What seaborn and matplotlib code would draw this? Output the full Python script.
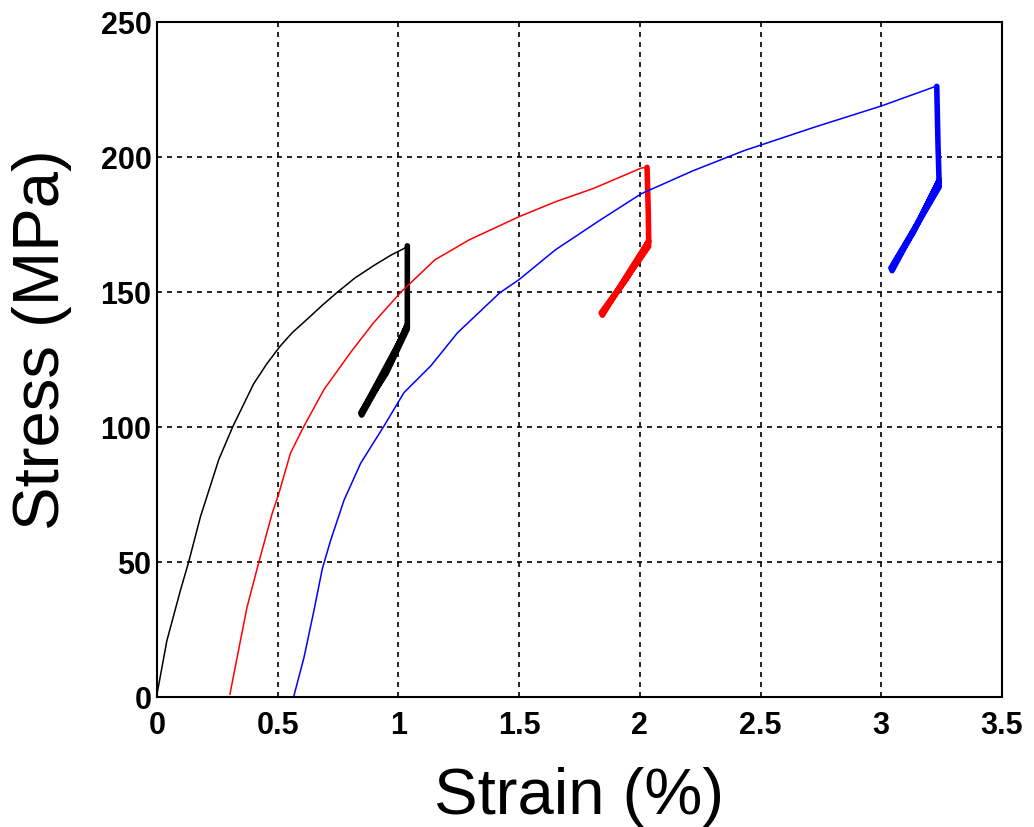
import numpy as np
import pandas as pd
import seaborn as sns
import matplotlib
matplotlib.use("Agg")
import matplotlib.pyplot as plt

# Monotonic loading curves (strain %, stress MPa)
black_strain = [0.0, 0.041, 0.097, 0.131, 0.18, 0.256, 0.315, 0.40, 0.455, 0.51, 0.56, 0.622, 0.685,
                0.747, 0.82, 0.90, 0.97, 1.023, 1.037]
black_stress = [1.0, 20.9, 39.5, 50.0, 66.8, 88.0, 100.4, 116.0, 123.5, 130.0, 135.0, 140.0, 145.2,
                150.0, 155.3, 160.0, 163.8, 166.2, 167.2]

red_strain = [0.302, 0.332, 0.373, 0.422, 0.477, 0.505, 0.553, 0.609, 0.692, 0.802, 0.899, 1.01, 1.151,
              1.293, 1.5, 1.65, 1.806, 2.006, 2.03]
red_stress = [1.0, 14.7, 33.3, 50.0, 68.0, 75.5, 90.4, 100.4, 114.0, 127.7, 138.9, 150.0, 162.0,
              169.4, 178.0, 183.5, 188.4, 196.0, 196.3]

blue_strain = [0.567, 0.609, 0.65, 0.685, 0.719, 0.775, 0.844, 0.94, 1.023, 1.134, 1.245, 1.42, 1.5,
               1.65, 1.835, 2.006, 2.22, 2.433, 2.718, 3.0, 3.217, 3.23]
blue_stress = [0.4, 14.7, 32.0, 47.6, 58.0, 73.0, 86.7, 100.4, 112.8, 122.7, 135.0, 149.8, 154.7,
               165.7, 176.7, 186.5, 195.0, 202.5, 211.0, 219.0, 226.0, 226.3]

# Relaxation drop + unload/reload cycles
black_cyc_strain = [1.037, 1.037, 1.037, 0.95, 0.844, 0.848, 0.96, 1.037, 0.95, 0.85, 1.037]
black_cyc_stress = [167.2, 150.0, 136.4, 120.0, 105.3, 104.5, 122.5, 138.0, 121.0, 106.0, 137.0]

red_cyc_strain = [2.03, 2.035, 2.037, 1.95, 1.84, 1.845, 1.955, 2.037, 1.945, 1.85, 2.037]
red_cyc_stress = [196.3, 180.0, 168.0, 156.0, 142.4, 141.5, 157.5, 169.0, 155.0, 143.0, 167.0]

blue_cyc_strain = [3.23, 3.235, 3.24, 3.14, 3.04, 3.045, 3.15, 3.24, 3.135, 3.05, 3.24]
blue_cyc_stress = [226.3, 205.0, 190.0, 174.0, 159.0, 158.0, 175.5, 191.5, 172.5, 160.0, 189.0]

curves = [
    ("k", black_strain, black_stress, black_cyc_strain, black_cyc_stress),
    ("r", red_strain, red_stress, red_cyc_strain, red_cyc_stress),
    ("b", blue_strain, blue_stress, blue_cyc_strain, blue_cyc_stress),
]

sns.set_style("white")
plt.rcParams["font.family"] = ["Liberation Sans", "DejaVu Sans"]

fig = plt.figure(figsize=(10.34, 8.27), dpi=100)
ax = fig.add_axes([0.1518, 0.157, 0.8172, 0.816])

for color, xs, ys, cx, cy in curves:
    df = pd.DataFrame({"strain": xs, "stress": ys})
    sns.lineplot(data=df, x="strain", y="stress", sort=False, estimator=None,
                 color=color, linewidth=1.1, ax=ax)
    dc = pd.DataFrame({"strain": cx, "stress": cy})
    sns.lineplot(data=dc, x="strain", y="stress", sort=False, estimator=None,
                 color=color, linewidth=4, ax=ax)

ax.set_xlim(0, 3.5)
ax.set_ylim(0, 250)
ax.set_xticks([0, 0.5, 1, 1.5, 2, 2.5, 3, 3.5])
ax.set_xticklabels(["0", "0.5", "1", "1.5", "2", "2.5", "3", "3.5"])
ax.set_yticks([0, 50, 100, 150, 200, 250])
ax.grid(True, color="black", linestyle=(0, (3, 3)), linewidth=1.2)
ax.tick_params(direction="in", length=5, width=1.2, colors="black", labelsize=22)
ax.tick_params(axis="x", pad=10)
ax.tick_params(axis="y", pad=4)
for lbl in ax.get_xticklabels() + ax.get_yticklabels():
    lbl.set_fontweight("bold")
for sp in ax.spines.values():
    sp.set_color("black")
    sp.set_linewidth(1.5)

ax.set_xlabel("Strain (%)", fontsize=47, color="black", labelpad=19)
ax.set_ylabel("Stress (MPa)", fontsize=47, color="black")
ax.yaxis.set_label_coords(-0.1006, 0.529)

fig.savefig("out.png", dpi=100)
